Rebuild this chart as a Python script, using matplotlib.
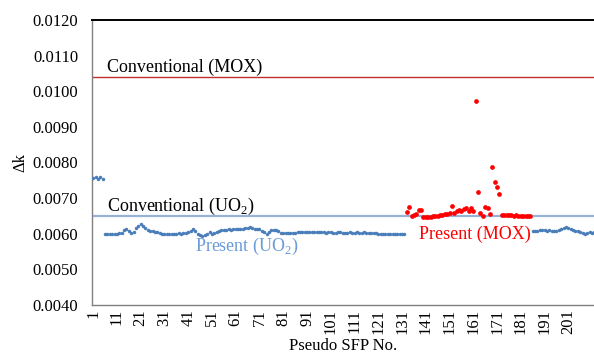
import numpy as np
import matplotlib
matplotlib.use("Agg")
import matplotlib.pyplot as plt

plt.rcParams['font.family'] = ['Liberation Serif', 'DejaVu Serif']
plt.rcParams['mathtext.fontset'] = 'custom'
plt.rcParams['mathtext.rm'] = 'Liberation Serif'

# ── 数据：Δk 与伪 SFP 编号 ─────────────────────────────
uo2_no_a = list(range(1, 133))
uo2_dk_a = [
    0.00757, 0.00760, 0.00755, 0.00758, 0.00755,
    0.00600, 0.00599, 0.00600, 0.00599, 0.00600, 0.00600, 0.00601, 0.00603,
    0.00610, 0.00612, 0.00607, 0.00603, 0.00604,
    0.00615, 0.00621, 0.00626, 0.00622, 0.00615,
    0.00610, 0.00609, 0.00607, 0.00606, 0.00604, 0.00602,
    0.00600, 0.00600, 0.00599, 0.00599, 0.00600, 0.00600, 0.00600, 0.00601,
    0.00600, 0.00601, 0.00602, 0.00604,
    0.00609, 0.00612, 0.00607,
    0.00600, 0.00596, 0.00594, 0.00597,
    0.00600, 0.00604, 0.00600, 0.00601, 0.00605,
    0.00609, 0.00610, 0.00611, 0.00611, 0.00612, 0.00611, 0.00612, 0.00613,
    0.00612, 0.00613, 0.00614,
    0.00615, 0.00617, 0.00618, 0.00616, 0.00614,
    0.00613, 0.00612, 0.00609, 0.00605,
    0.00600, 0.00604,
    0.00610, 0.00611, 0.00610, 0.00608,
    0.00603, 0.00602, 0.00603, 0.00602, 0.00603, 0.00603, 0.00603, 0.00604,
    0.00604, 0.00605, 0.00604, 0.00605, 0.00606, 0.00605, 0.00606, 0.00606,
    0.00605, 0.00604, 0.00604, 0.00603, 0.00604, 0.00604, 0.00603, 0.00603,
    0.00604, 0.00604, 0.00603, 0.00603, 0.00603, 0.00604, 0.00603, 0.00603,
    0.00604, 0.00603, 0.00603, 0.00604,
    0.00603, 0.00602, 0.00603, 0.00603, 0.00603,
    0.00600, 0.00599, 0.00599, 0.00598, 0.00599, 0.00599, 0.00600, 0.00599,
    0.00599, 0.00600, 0.00600, 0.00600,
]
mox_no = list(range(133, 186))
mox_dk = [
    0.00661, 0.00674, 0.00650, 0.00654, 0.00655, 0.00666, 0.00666,
    0.00648, 0.00647, 0.00648, 0.00648, 0.00649, 0.00650, 0.00651, 0.00652,
    0.00653, 0.00655, 0.00656, 0.00657,
    0.00677, 0.00659, 0.00664, 0.00667, 0.00664, 0.00670, 0.00672, 0.00664,
    0.00672, 0.00664,
    0.00974, 0.00717, 0.00658, 0.00649, 0.00675, 0.00673, 0.00655,
    0.00788, 0.00746, 0.00731, 0.00712,
    0.00653, 0.00653, 0.00652, 0.00652, 0.00652, 0.00651, 0.00652, 0.00651,
    0.00651, 0.00650, 0.00651, 0.00650, 0.00650,
]
uo2_no_b = list(range(186, 213))
uo2_dk_b = [
    0.00609, 0.00607, 0.00608, 0.00610, 0.00611, 0.00610, 0.00609, 0.00610,
    0.00609, 0.00607, 0.00608, 0.00611, 0.00613, 0.00616, 0.00618, 0.00617,
    0.00614, 0.00611, 0.00609, 0.00607, 0.00605, 0.00602, 0.00600, 0.00603,
    0.00605, 0.00603, 0.00604,
]
conv_uo2 = 0.00651
conv_mox = 0.01040
x_ticks = list(range(1, 202, 10))

# ── 绘图 ───────────────────────────────────────────────
fig = plt.figure(figsize=(5.94, 3.54), dpi=100)
ax = fig.add_axes([92 / 594, 1 - 305 / 354, 1 - 92 / 594, 285 / 354])

ax.axhline(conv_mox, color='#C0302D', lw=1.0, zorder=2)
ax.axhline(conv_uo2, color='#95B3D7', lw=1.6, zorder=2)

blue = '#4A7EBB'
ax.plot(uo2_no_a, uo2_dk_a, 'o', ms=2.5, color=blue, mew=0, zorder=3)
ax.plot(uo2_no_b, uo2_dk_b, 'o', ms=2.5, color=blue, mew=0, zorder=3)
ax.plot(mox_no, mox_dk, 'o', ms=3.4, color='#FF0000', mew=0, zorder=4)

ax.set_xlim(0.5, 211.8)
ax.set_ylim(0.0040, 0.0120)
ax.set_yticks(np.arange(0.0040, 0.01201, 0.0010))
ax.yaxis.set_major_formatter(matplotlib.ticker.FormatStrFormatter('%.4f'))
ax.set_xticks(x_ticks)
ax.set_xticklabels([str(v) for v in x_ticks], rotation=90)
ax.tick_params(axis='both', length=0, labelsize=12, colors='black')
ax.tick_params(axis='y', pad=10)
ax.tick_params(axis='x', pad=3)

for s in ['left', 'bottom']:
    ax.spines[s].set_color('#808080')
    ax.spines[s].set_linewidth(1.0)
ax.spines['top'].set_color('black')
ax.spines['top'].set_linewidth(1.4)
ax.spines['right'].set_visible(False)

ax.set_ylabel('Δk', fontsize=12, labelpad=3)
ax.set_xlabel('Pseudo SFP No.', fontsize=12, labelpad=3)

ax.text(7, 0.01066, 'Conventional (MOX)', fontsize=13, va='center', ha='left')
ax.text(7, 0.00677, 'Conventional (UO$_2$)', fontsize=13, va='center', ha='left')
ax.text(44, 0.00564, 'Present (UO$_2$)', fontsize=13, va='center', ha='left',
        color='#6A9BD8')
ax.text(138, 0.00598, 'Present (MOX)', fontsize=13, va='center', ha='left',
        color='#FF0000')

fig.savefig('out.png', dpi=100)
